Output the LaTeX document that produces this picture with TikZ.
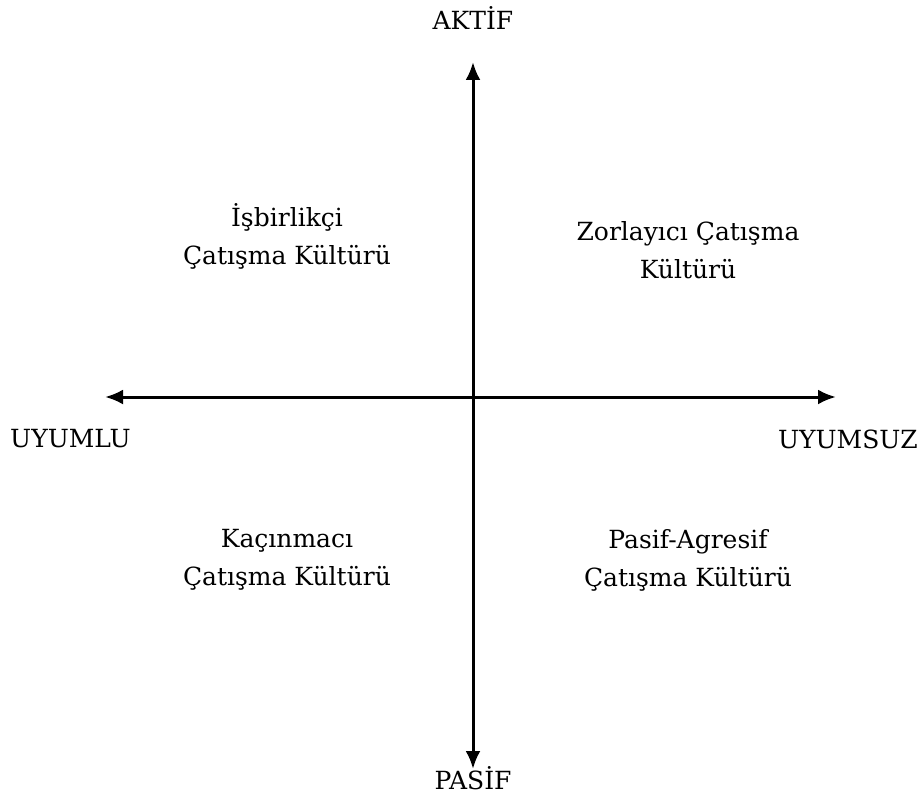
\documentclass[tikz,border=0pt]{standalone}
\usepackage{fontspec}
\setmainfont{DejaVu Serif}
\usetikzlibrary{arrows.meta}
\begin{document}
\begin{tikzpicture}[x=1pt,y=-1pt,
  axis/.style={line width=3pt,-{Latex[length=18pt,width=15pt]}},
  lbl/.style={font=\fontsize{25}{38}\selectfont,align=center,inner sep=0pt}]
\useasboundingbox (0,0) rectangle (920,799);
\coordinate (c) at (473,397);
\coordinate (top) at (473,62);
\coordinate (bot) at (473,769);
\coordinate (lft) at (105,397);
\coordinate (rgt) at (836,397);
\draw[axis] (c) -- (top);
\draw[axis] (c) -- (bot);
\draw[axis] (c) -- (lft);
\draw[axis] (c) -- (rgt);
\node[lbl] (aktif) at (473,18) {AKTİF};
\node[lbl] (pasif) at (473,778) {PASİF};
\node[lbl,anchor=west] (uyumlu) at (10,439) {UYUMLU};
\node[lbl,anchor=east] (uyumsuz) at (918,439) {UYUMSUZ};
\node[lbl] (q1) at (287,236) {İşbirlikçi\\Çatışma Kültürü};
\node[lbl] (q2) at (688,250) {Zorlayıcı Çatışma\\Kültürü};
\node[lbl] (q3) at (287,560) {Kaçınmacı\\Çatışma Kültürü};
\node[lbl] (q4) at (688,560) {Pasif-Agresif\\Çatışma Kültürü};
\end{tikzpicture}
\end{document}
